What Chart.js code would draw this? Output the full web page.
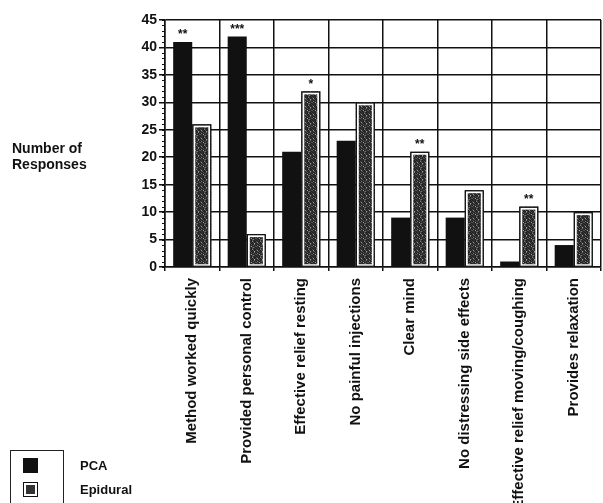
<!DOCTYPE html>
<html>
<head>
<meta charset="utf-8">
<script src="https://cdn.jsdelivr.net/npm/chart.js@4/dist/chart.umd.min.js"></script>
<style>
  body { margin: 0; background: #fff; }
  #wrap { position: relative; width: 603px; height: 503px; }
  .lbl { position: absolute; font: bold 14px "Liberation Sans", Arial, sans-serif; color: #111; line-height: 16px; }
  #legendBox { position: absolute; left: 10px; top: 450px; width: 52px; height: 60px; border: 1.5px solid #222; border-bottom: none; }
  .sw { position: absolute; left: 23px; width: 15px; height: 15px; box-sizing: border-box; }
</style>
</head>
<body>
<div id="wrap">
  <canvas id="chart" width="603" height="503"></canvas>
  <div class="lbl" style="left:12px; top:140px;">Number of<br>Responses</div>
  <div id="legendBox"></div>
  <div class="sw" style="top:458px; background:#111;"></div>
  <div class="sw" style="top:482px; background:#333; border:1.5px solid #111; box-shadow: inset 0 0 0 2px #fff;"></div>
  <div class="lbl" style="left:80px; top:458px; font-size:13px;">PCA</div>
  <div class="lbl" style="left:80px; top:482px; font-size:13px;">Epidural</div>
</div>
<script>
const categories = [
  'Method worked quickly',
  'Provided personal control',
  'Effective relief resting',
  'No painful injections',
  'Clear mind',
  'No distressing side effects',
  'Effective relief moving/coughing',
  'Provides relaxation'
];
const pcaValues = [41, 42, 21, 23, 9, 9, 1, 4];
const epiduralValues = [26, 6, 32, 30, 21, 14, 11, 10];
const pcaStars = ['**', '***', '', '', '', '', '', ''];
const epiduralStars = ['', '', '*', '', '**', '', '**', ''];

const font = '"Liberation Sans", Arial, sans-serif';

// speckled dark fill for the epidural bars (fixed pattern, no randomness)
function speckle() {
  const shades = ['#1e1e1e', '#2c2c2c', '#3a3a3a', '#555', '#7a7a7a', '#a0a0a0'];
  const map = [
    '01203102',
    '30104210',
    '15020301',
    '02301052',
    '21030140',
    '04102302',
    '30250103',
    '12013420'
  ];
  const c = document.createElement('canvas');
  c.width = 8; c.height = 8;
  const g = c.getContext('2d');
  map.forEach((row, yy) => {
    [...row].forEach((k, xx) => {
      g.fillStyle = shades[+k];
      g.fillRect(xx, yy, 1, 1);
    });
  });
  return g.createPattern(c, 'repeat');
}

const barDecor = {
  id: 'barDecor',
  afterDatasetsDraw(chart) {
    const ctx = chart.ctx;
    ctx.save();
    // outline of the epidural bars
    chart.getDatasetMeta(1).data.forEach(bar => {
      const l = bar.x - bar.width / 2, t = bar.y, w = bar.width, h = bar.base - bar.y;
      ctx.strokeStyle = '#fff';
      ctx.lineWidth = 2;
      ctx.strokeRect(l + 2, t + 2, w - 4, h - 3);
      ctx.strokeStyle = '#111';
      ctx.lineWidth = 1.2;
      ctx.strokeRect(l + 0.6, t + 0.6, w - 1.2, h - 0.6);
    });
    // significance stars
    ctx.fillStyle = '#111';
    ctx.font = 'bold 12px ' + font;
    ctx.textAlign = 'center';
    ctx.textBaseline = 'bottom';
    [pcaStars, epiduralStars].forEach((stars, d) => {
      chart.getDatasetMeta(d).data.forEach((bar, i) => {
        if (stars[i]) ctx.fillText(stars[i], bar.x, bar.y - 1);
      });
    });
    // minor ticks on the y axis
    const y = chart.scales.y, left = chart.chartArea.left;
    ctx.strokeStyle = '#111';
    ctx.lineWidth = 1;
    for (let v = 0; v <= 45; v++) {
      const py = Math.round(y.getPixelForValue(v)) + 0.5;
      ctx.beginPath();
      ctx.moveTo(left - 3, py);
      ctx.lineTo(left, py);
      ctx.stroke();
    }
    ctx.restore();
  }
};

new Chart(document.getElementById('chart'), {
  type: 'bar',
  data: {
    labels: categories,
    datasets: [
      { label: 'PCA', data: pcaValues, backgroundColor: '#111', borderWidth: 0 },
      { label: 'Epidural', data: epiduralValues, backgroundColor: speckle(), borderWidth: 0 }
    ]
  },
  options: {
    responsive: false,
    animation: false,
    layout: { padding: { top: 20, right: 2, left: 0, bottom: 0 } },
    datasets: { bar: { categoryPercentage: 0.7, barPercentage: 1 } },
    plugins: {
      legend: { display: false },
      tooltip: { enabled: false }
    },
    scales: {
      x: {
        offset: true,
        grid: { offset: true, color: '#111', lineWidth: 1.5, tickLength: 4 },
        border: { color: '#111', width: 1.5 },
        ticks: {
          minRotation: 90, maxRotation: 90, autoSkip: false, padding: 7,
          color: '#111', font: { family: font, size: 15, weight: 'bold' }
        },
        afterFit: s => { s.height = 236; }
      },
      y: {
        min: 0, max: 45,
        grid: { color: '#111', lineWidth: 1.5, tickLength: 6 },
        border: { color: '#111', width: 1.5 },
        ticks: {
          stepSize: 5, padding: 2,
          color: '#111', font: { family: font, size: 14, weight: 'bold' }
        },
        afterFit: s => { s.width = 165; }
      }
    }
  },
  plugins: [barDecor]
});
</script>
</body>
</html>
